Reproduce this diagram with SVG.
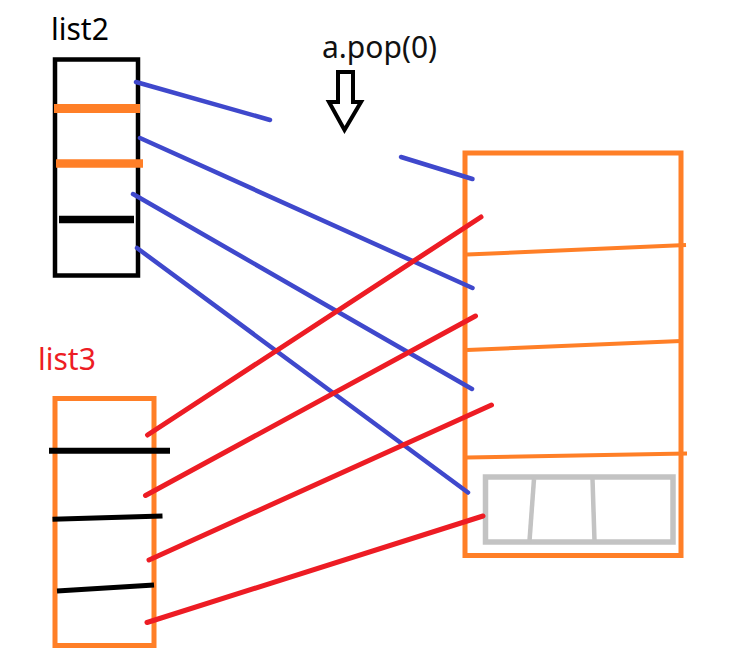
<svg xmlns="http://www.w3.org/2000/svg" width="734" height="657" viewBox="0 0 734 657">
<style>
.lbl{font-family:"Noto Sans","Open Sans",sans-serif;font-size:30px}
.box{fill:none}
.blue{stroke:#3f48cc;stroke-width:4.5;stroke-linecap:round;fill:none}
.red{stroke:#ed1c24;stroke-width:5;stroke-linecap:round;fill:none}
.org{stroke:#ff7f27;fill:none}
.blk{stroke:#000;fill:none}
.gry{stroke:#c3c3c3;fill:none}
</style>
<rect width="734" height="657" fill="#fff"/>
<g id="list2">
<text class="lbl" x="51" y="40" fill="#000">list2</text>
<rect class="box blk" x="55" y="59.5" width="83" height="216" stroke-width="4.5"/>
<line class="org" x1="54" y1="108.5" x2="140" y2="108.5" stroke-width="9"/>
<line class="org" x1="56" y1="163.5" x2="143" y2="163.5" stroke-width="8.5"/>
<line class="blk" x1="59" y1="219.5" x2="134" y2="219.5" stroke-width="7.5"/>
</g>
<g id="pop">
<text class="lbl" x="322" y="58" fill="#111">a.pop(0)</text>
<polygon class="blk" stroke-width="4" stroke-linejoin="miter" points="338,72 353,72 353,102 361,102 344.5,130 329,102 338,102"/>
</g>
<g id="heap">
<rect class="box org" x="465" y="153" width="216" height="402.5" stroke-width="5"/>
<line class="org" x1="467" y1="254.5" x2="686" y2="245" stroke-width="4"/>
<line class="org" x1="467" y1="350" x2="681" y2="341" stroke-width="4"/>
<line class="org" x1="467" y1="457.5" x2="687" y2="453.5" stroke-width="4"/>
<rect class="box gry" x="485.5" y="477" width="187.5" height="65" stroke-width="5.5"/>
<line class="gry" x1="534" y1="479" x2="529.5" y2="541" stroke-width="4.5"/>
<line class="gry" x1="592.5" y1="479" x2="594.5" y2="541" stroke-width="4.5"/>
</g>
<g id="list3">
<text class="lbl" x="38" y="370" fill="#ed1c24">list3</text>
<rect class="box org" x="55" y="398.5" width="99" height="247" stroke-width="5"/>
<line class="blk" x1="49" y1="450.7" x2="170" y2="450.7" stroke-width="6"/>
<line class="blk" x1="52.5" y1="519.3" x2="162.5" y2="516" stroke-width="5"/>
<line class="blk" x1="57" y1="591" x2="154" y2="585" stroke-width="5"/>
</g>
<g id="connectors">
<line class="blue" x1="136" y1="82" x2="270" y2="120"/>
<line class="blue" x1="401" y1="157" x2="472.5" y2="179"/>
<line class="blue" x1="140" y1="138" x2="472.5" y2="288"/>
<line class="blue" x1="133" y1="194" x2="472" y2="389"/>
<line class="blue" x1="137" y1="248" x2="468" y2="492.5"/>
<line class="red" x1="147.5" y1="435" x2="481" y2="217"/>
<line class="red" x1="145.5" y1="495.5" x2="475.5" y2="316"/>
<line class="red" x1="149" y1="560" x2="491.5" y2="405"/>
<line class="red" x1="147" y1="622.5" x2="483" y2="516"/>
</g>
</svg>
